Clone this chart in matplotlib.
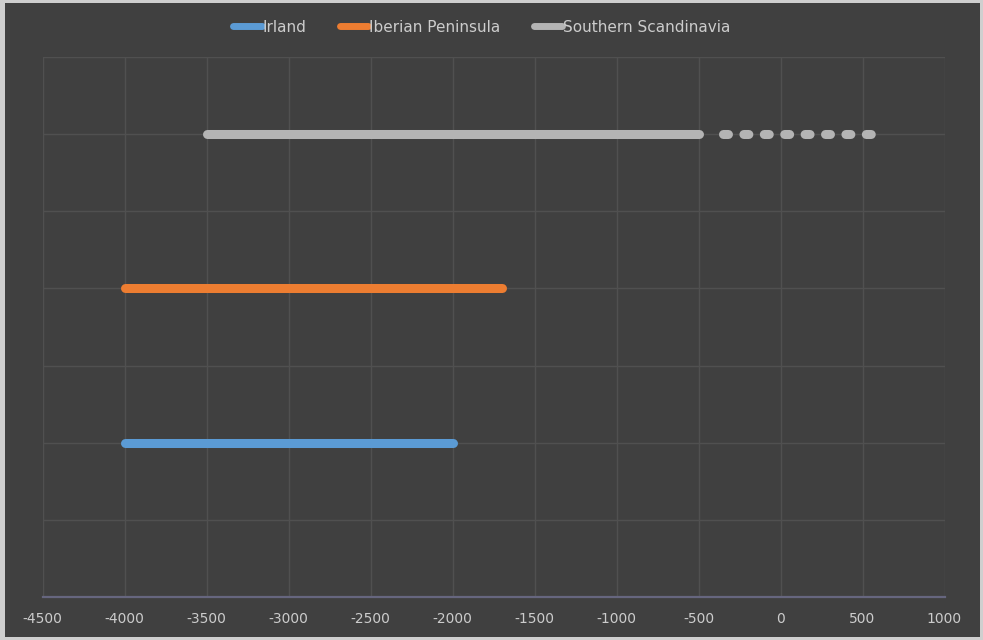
import matplotlib
matplotlib.use("Agg")
import matplotlib.pyplot as plt
from matplotlib.patches import Rectangle

# Period ranges per region (years, negative = BCE)
regions = ["Irland", "Iberian Peninsula", "Southern Scandinavia"]
starts = [-4000, -4000, -3500]
ends = [-2000, -1700, -500]
levels = [2, 4, 6]
colors = ["#5b9bd5", "#ed7d31", "#b4b4b4"]

# Uncertain continuation of the Scandinavian range (dotted)
tail_start = -350
tail_end = 560

xticks = list(range(-4500, 1001, 500))

W, H, DPI = 983, 640, 100
fig = plt.figure(figsize=(W / DPI, H / DPI), dpi=DPI, facecolor="#cfcfcf")

bg = "#404040"
fig.patches.append(Rectangle((5 / W, 3 / H), (980 - 5) / W, (637 - 3) / H,
                             transform=fig.transFigure, facecolor=bg,
                             edgecolor="none", zorder=-10))

ax = fig.add_axes([42.5 / W, 1 - 597 / H, (944.5 - 42.5) / W, (597 - 57) / H])
ax.set_zorder(1)
ax.set_facecolor(bg)

lw = 6.5
for name, s, e, y, c in zip(regions, starts, ends, levels, colors):
    ax.plot([s, e], [y, y], color=c, lw=lw, solid_capstyle="round",
            label=name, zorder=3)

ax.plot([tail_start, tail_end], [levels[2], levels[2]], color=colors[2],
        lw=lw, dash_capstyle="round", dashes=(0.55, 1.71), zorder=3)

ax.set_xlim(-4500, 1000)
ax.set_ylim(0, 7)
ax.set_xticks(xticks)
ax.set_xticklabels([str(t) for t in xticks])
ax.set_yticks(range(0, 8))
ax.set_yticklabels([])
ax.tick_params(axis="both", length=0)
ax.tick_params(axis="x", colors="#cccccc", labelsize=10, pad=11)
ax.grid(True, color="#505050", lw=1.0, zorder=1)

for side in ["top", "left", "right"]:
    ax.spines[side].set_visible(False)
ax.spines["bottom"].set_color("#66667f")
ax.spines["bottom"].set_linewidth(1.6)
ax.spines["bottom"].set_zorder(4)

leg = fig.legend(loc="center", bbox_to_anchor=(0.49, 1 - 27 / H), ncol=3,
                 frameon=False, fontsize=11, handlelength=1.85,
                 handletextpad=0.05, columnspacing=2.2, labelcolor="#cccccc")
leg.set_zorder(2)
for line in leg.get_lines():
    line.set_linewidth(5)
    line.set_solid_capstyle("round")

fig.savefig("out.png", dpi=DPI, facecolor=fig.get_facecolor())
